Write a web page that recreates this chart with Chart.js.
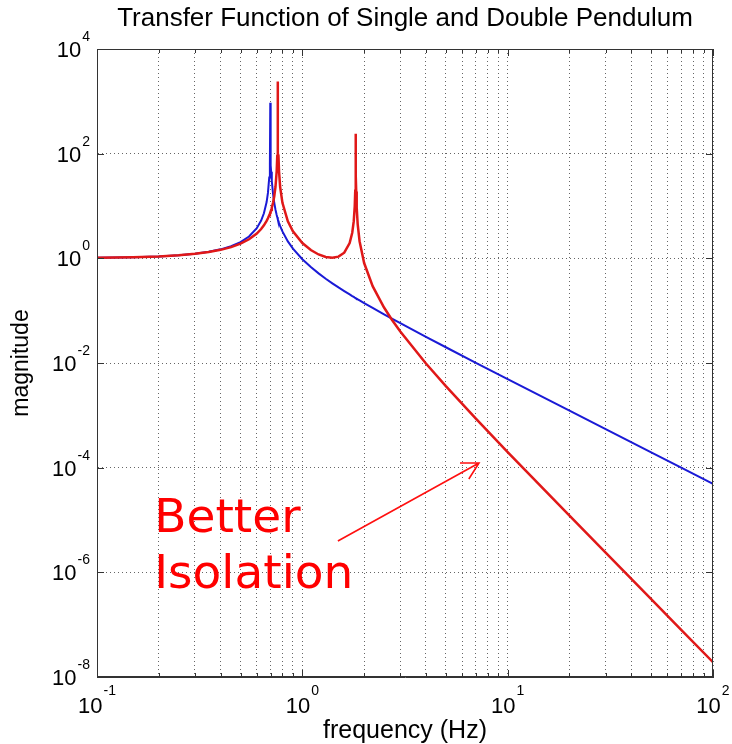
<!DOCTYPE html>
<html>
<head>
<meta charset="utf-8">
<title>Transfer Function of Single and Double Pendulum</title>
<script src="https://cdn.jsdelivr.net/npm/chart.js@4.4.1/dist/chart.umd.min.js"></script>
<style>
  html, body { margin: 0; padding: 0; background: #fff; }
  #wrap { width: 732px; height: 744px; }
</style>
</head>
<body>
<div id="wrap"><canvas id="tf" width="732" height="744"></canvas></div>
<script>
// frequencies (Hz), denser around the resonances
const freqHz = [
  0.1, 0.15, 0.2, 0.25, 0.3, 0.35, 0.4, 0.45, 0.5, 0.55,
  0.6, 0.63, 0.65, 0.67, 0.68, 0.69, 0.695, 0.698, 0.701, 0.705,
  0.71, 0.72, 0.73, 0.74, 0.75, 0.755, 0.758, 0.761, 0.765, 0.77,
  0.78, 0.8, 0.85, 0.9, 1.0, 1.1, 1.2, 1.3, 1.4, 1.5,
  1.6, 1.7, 1.75, 1.78, 1.8, 1.81, 1.815, 1.82, 1.825, 1.83,
  1.84, 1.86, 1.9, 2.0, 2.2, 2.5, 2.73, 3, 4, 5,
  7, 10, 20, 30, 50, 70, 100
];

// single pendulum (blue)
const magSingle = [
  1.021, 1.048, 1.089, 1.146, 1.225, 1.333, 1.485, 1.704, 2.042, 2.613,
  3.77, 5.26, 7.26, 11.9, 17.8, 35, 60, 940, 60, 45,
  30, 17.3, 11.4, 8.51, 6.76, 6.12, 5.79, 5.50, 5.15, 4.76,
  4.14, 3.27, 2.11, 1.531, 0.961, 0.681, 0.516, 0.408, 0.333, 0.278,
  0.237, 0.204, 0.190, 0.183, 0.178, 0.1759, 0.1747, 0.1736, 0.1725, 0.1714,
  0.1692, 0.1650, 0.157, 0.1396, 0.1126, 0.0851, 0.0704, 0.0576, 0.0316, 0.0200,
  0.0101, 0.00492, 0.001227, 0.000545, 0.000196, 0.0001, 0.000049
];

// double pendulum (red)
const magDouble = [
  1.021, 1.048, 1.087, 1.143, 1.218, 1.318, 1.453, 1.640, 1.907, 2.310,
  2.978, 3.631, 4.268, 5.191, 5.827, 6.645, 7.147, 7.49, 7.87, 8.43,
  9.27, 11.57, 15.4, 23.1, 46, 90, 2400, 100, 92, 46,
  23, 11.5, 5.10, 3.29, 1.958, 1.439, 1.185, 1.060, 1.023, 1.077,
  1.283, 1.958, 3.08, 5.13, 9.92, 19.5, 38.7, 240, 38.2, 18.9,
  9.31, 4.51, 2.12, 0.813, 0.294, 0.1148, 0.0672, 0.0399, 0.00978, 0.003612,
  0.000865, 0.000199, 0.00001207, 0.000002372, 3.068e-7, 7.97e-8, 1.914e-8
];

// grid / tick positions
const xGridTicks = [
  0.1, 0.2, 0.3, 0.4, 0.5, 0.6, 0.7, 0.8, 0.9,
  1, 2, 3, 4, 5, 6, 7, 8, 9,
  10, 20, 30, 40, 50, 60, 70, 80, 90, 100
];
const xLabelTicks = [0.1, 1, 10, 100];
const xLabelExp = ['-1', '0', '1', '2'];
const yLabelTicks = [1e-8, 1e-6, 1e-4, 1e-2, 1, 1e2, 1e4];
const yLabelExp = ['-8', '-6', '-4', '-2', '0', '2', '4'];

// annotation (data units)
const noteLines = ['Better', 'Isolation'];
const noteAt = [[0.19, 5.9e-6], [0.19, 5.0e-7]];
const arrowFrom = [1.49, 3.97e-6];
const arrowTo = [7.25, 1.23e-4];

const sans = '"Liberation Sans", Arial, Helvetica, sans-serif';
const gridColor = 'rgba(0,0,0,0.6)';

function powerLabel(ctx, x, y, exp, align, supLift) {
  ctx.font = '22px ' + sans;
  const wBase = ctx.measureText('10').width;
  ctx.font = '14px ' + sans;
  const wExp = ctx.measureText(exp).width;
  const total = wBase + 1 + wExp;
  const left = align === 'center' ? x - total / 2 : x - total;
  ctx.textAlign = 'left';
  ctx.textBaseline = 'alphabetic';
  ctx.font = '22px ' + sans;
  ctx.fillText('10', left, y);
  ctx.font = '14px ' + sans;
  ctx.fillText(exp, left + wBase + 1, y - supLift);
}

const matlabAxes = {
  id: 'matlabAxes',
  afterDatasetsDraw(chart) {
    const { ctx, chartArea: a, scales: { x, y } } = chart;
    ctx.save();
    ctx.strokeStyle = '#333';
    ctx.lineWidth = 1;
    ctx.strokeRect(Math.round(a.left) + 0.5, Math.round(a.top) + 0.5,
      Math.round(a.right - a.left) - 1, Math.round(a.bottom - a.top) - 1);

    // inner tick marks
    ctx.beginPath();
    xGridTicks.forEach(v => {
      const px = Math.round(x.getPixelForValue(v)) + 0.5;
      const len = xLabelTicks.includes(v) ? 7 : 4;
      ctx.moveTo(px, a.bottom); ctx.lineTo(px, a.bottom - len);
      ctx.moveTo(px, a.top); ctx.lineTo(px, a.top + len);
    });
    yLabelTicks.forEach(v => {
      const py = Math.round(y.getPixelForValue(v)) + 0.5;
      ctx.moveTo(a.left, py); ctx.lineTo(a.left + 7, py);
      ctx.moveTo(a.right, py); ctx.lineTo(a.right - 7, py);
    });
    ctx.stroke();
    ctx.restore();
  },
  afterDraw(chart) {
    const { ctx, chartArea: a, scales: { x, y } } = chart;
    ctx.save();
    ctx.fillStyle = '#000';
    xLabelTicks.forEach((v, i) => {
      powerLabel(ctx, x.getPixelForValue(v), a.bottom + 36, xLabelExp[i], 'center', 18);
    });
    yLabelTicks.forEach((v, i) => {
      powerLabel(ctx, a.left - 7, y.getPixelForValue(v) + 8, yLabelExp[i], 'right', 16);
    });

    // "Better Isolation" note and arrow
    ctx.fillStyle = '#ff0000';
    ctx.font = '47px "Comic Sans MS", "DejaVu Sans", sans-serif';
    ctx.textAlign = 'left';
    ctx.textBaseline = 'alphabetic';
    noteLines.forEach((t, i) => {
      ctx.fillText(t, x.getPixelForValue(noteAt[i][0]), y.getPixelForValue(noteAt[i][1]));
    });
    const x0 = x.getPixelForValue(arrowFrom[0]), y0 = y.getPixelForValue(arrowFrom[1]);
    const x1 = x.getPixelForValue(arrowTo[0]), y1 = y.getPixelForValue(arrowTo[1]);
    const ang = Math.atan2(y0 - y1, x0 - x1);
    ctx.strokeStyle = '#ff1010';
    ctx.lineWidth = 1.6;
    ctx.beginPath();
    ctx.moveTo(x0, y0); ctx.lineTo(x1, y1);
    ctx.moveTo(x1 + 19 * Math.cos(ang + 0.5), y1 + 19 * Math.sin(ang + 0.5));
    ctx.lineTo(x1, y1);
    ctx.lineTo(x1 + 19 * Math.cos(ang - 0.5), y1 + 19 * Math.sin(ang - 0.5));
    ctx.stroke();
    ctx.restore();
  }
};

new Chart(document.getElementById('tf'), {
  type: 'line',
  data: {
    datasets: [{
      label: 'Single pendulum',
      data: freqHz.map((f, i) => ({ x: f, y: magSingle[i] })),
      borderColor: '#1a1ad6',
      borderWidth: 2,
      order: 1
    }, {
      label: 'Double pendulum',
      data: freqHz.map((f, i) => ({ x: f, y: magDouble[i] })),
      borderColor: '#e01818',
      borderWidth: 2.5,
      order: 0
    }]
  },
  options: {
    responsive: false,
    animation: false,
    devicePixelRatio: 1,
    layout: { padding: { left: 0, right: 19, top: 0, bottom: 0 } },
    elements: {
      point: { radius: 0 },
      line: { tension: 0, fill: false }
    },
    plugins: {
      legend: { display: false },
      tooltip: { enabled: false },
      title: {
        display: true,
        text: 'Transfer Function of Single and Double Pendulum',
        fullSize: false,
        color: '#000',
        font: { family: sans, size: 26, weight: 'normal', lineHeight: 1 },
        padding: { top: 6, bottom: 17 }
      }
    },
    scales: {
      x: {
        type: 'logarithmic',
        min: 0.1,
        max: 100,
        afterBuildTicks: s => { s.ticks = xGridTicks.map(v => ({ value: v })); },
        ticks: { display: false },
        grid: { color: gridColor, lineWidth: 1, drawTicks: false },
        border: { display: true, color: '#333', width: 1, dash: [1, 3] },
        title: {
          display: true,
          text: 'frequency (Hz)',
          color: '#000',
          font: { family: sans, size: 25, lineHeight: 1 },
          padding: { top: 42, bottom: 0 }
        }
      },
      y: {
        type: 'logarithmic',
        min: 1e-8,
        max: 1e4,
        afterBuildTicks: s => { s.ticks = yLabelTicks.map(v => ({ value: v })); },
        ticks: { display: false },
        grid: { color: gridColor, lineWidth: 1, drawTicks: false },
        border: { display: true, color: '#333', width: 1, dash: [1, 3] },
        title: {
          display: true,
          text: 'magnitude',
          color: '#000',
          font: { family: sans, size: 23, lineHeight: 1 },
          padding: { top: 10.5, bottom: 63.5 }
        }
      }
    }
  },
  plugins: [matlabAxes]
});
</script>
</body>
</html>
